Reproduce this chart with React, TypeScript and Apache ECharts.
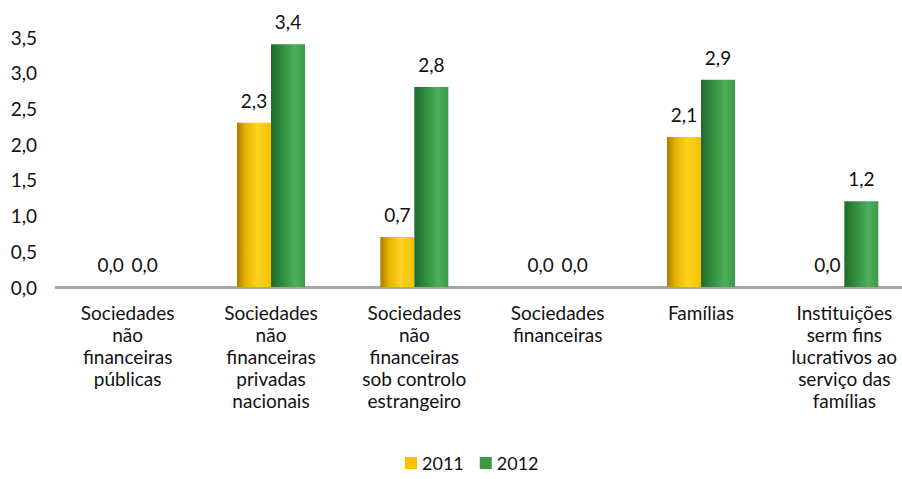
import React, { useEffect, useRef } from "react";
import * as echarts from "echarts";

const categories = [
  "Sociedades\nnão\nfinanceiras\npúblicas",
  "Sociedades\nnão\nfinanceiras\nprivadas\nnacionais",
  "Sociedades\nnão\nfinanceiras\nsob controlo\nestrangeiro",
  "Sociedades\nfinanceiras",
  "Famílias",
  "Instituições\nserm fins\nlucrativos ao\nserviço das\nfamílias",
];
const values2011 = [0.0, 2.3, 0.7, 0.0, 2.1, 0.0];
const values2012 = [0.0, 3.4, 2.8, 0.0, 2.9, 1.2];
const seriesNames = ["2011", "2012"];

const FONT = "Lato";
const FS = 19;

export default function App() {
  const ref = useRef<HTMLDivElement>(null);
  useEffect(() => {
    if (!ref.current) return;
    const chart = echarts.init(ref.current, undefined, { renderer: "svg" });
    const fmt = (v: number) => v.toFixed(1).replace(".", ",");
    const yellowGrad = new echarts.graphic.LinearGradient(0, 0, 1, 0, [
      { offset: 0, color: "#a87e00" },
      { offset: 0.25, color: "#e6b200" },
      { offset: 0.6, color: "#ffd420" },
      { offset: 1, color: "#f2c000" },
    ]);
    const greenGrad = new echarts.graphic.LinearGradient(0, 0, 1, 0, [
      { offset: 0, color: "#1f6a2a" },
      { offset: 0.3, color: "#2f8a3c" },
      { offset: 0.7, color: "#4cae5a" },
      { offset: 1, color: "#3d9a4a" },
    ]);
    const label = {
      show: true,
      position: "top" as const,
      distance: 13,
      fontFamily: FONT,
      fontSize: FS,
      color: "#111",
      formatter: (p: any) => fmt(p.value),
    };
    chart.setOption({
      animation: false,
      textStyle: { fontFamily: FONT },
      grid: {
        left: 56,
        width: 860,
        top: 37,
        bottom: 192,
        containLabel: false,
        outerBoundsMode: "none",
      },
      legend: {
        bottom: 2,
        left: 400,
        itemWidth: 12,
        itemHeight: 12,
        itemGap: 16,
        icon: "rect",
        textStyle: { fontFamily: FONT, fontSize: 18, color: "#111" },
        data: [
          { name: seriesNames[0], itemStyle: { color: "#ffc000" } },
          { name: seriesNames[1], itemStyle: { color: "#3a9a48" } },
        ],
      },
      xAxis: {
        type: "category",
        data: categories,
        axisLine: { show: true, lineStyle: { color: "#a6a6a6", width: 3 } },
        axisTick: { show: false },
        axisLabel: {
          interval: 0,
          fontFamily: FONT,
          fontSize: FS,
          color: "#111",
          lineHeight: 22,
          margin: 14,
        },
      },
      yAxis: {
        type: "value",
        min: 0,
        max: 3.5,
        interval: 0.5,
        splitLine: { show: false },
        axisLine: { show: false },
        axisTick: { show: false },
        axisLabel: {
          fontFamily: FONT,
          fontSize: FS,
          color: "#111",
          margin: 19,
          formatter: (v: number) => fmt(v),
        },
      },
      series: [
        {
          name: seriesNames[0],
          type: "bar",
          data: values2011,
          barWidth: 34,
          barGap: "0%",
          itemStyle: { color: yellowGrad },
          label,
        },
        {
          name: seriesNames[1],
          type: "bar",
          data: values2012,
          barWidth: 34,
          barGap: "0%",
          itemStyle: { color: greenGrad },
          label,
        },
      ],
    });
    return () => chart.dispose();
  }, []);
  return (
    <div
      ref={ref}
      style={{ position: "fixed", left: 0, top: 0, width: 902, height: 479, background: "#fff" }}
    />
  );
}
